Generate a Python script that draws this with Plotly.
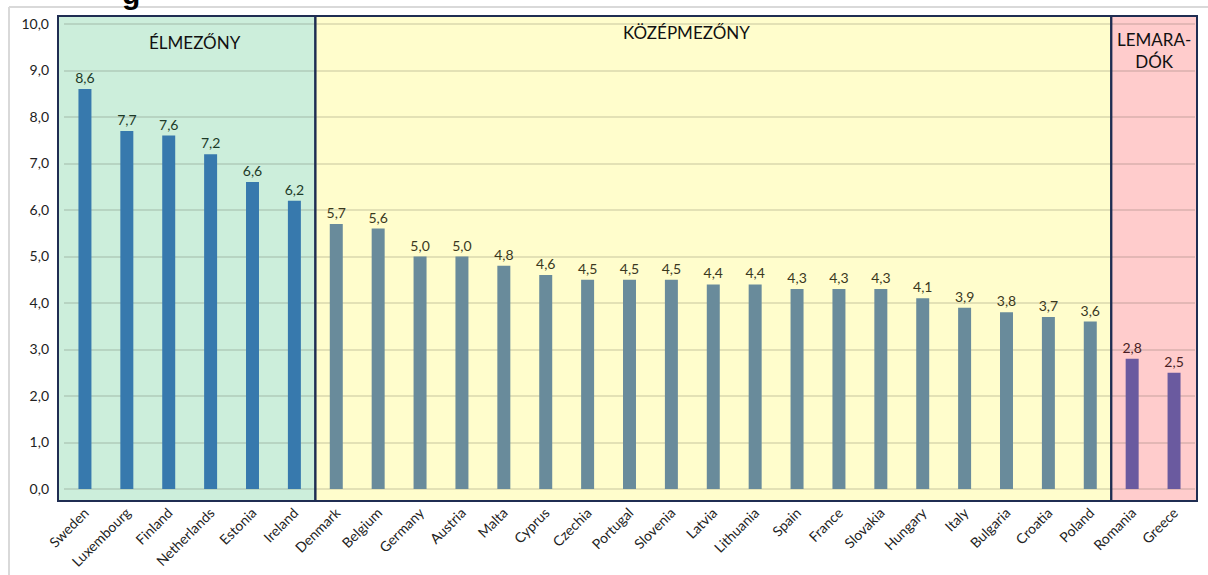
import plotly.graph_objects as go

countries = ["Sweden", "Luxembourg", "Finland", "Netherlands", "Estonia", "Ireland",
             "Denmark", "Belgium", "Germany", "Austria", "Malta", "Cyprus", "Czechia",
             "Portugal", "Slovenia", "Latvia", "Lithuania", "Spain", "France", "Slovakia",
             "Hungary", "Italy", "Bulgaria", "Croatia", "Poland", "Romania", "Greece"]
values = [8.6, 7.7, 7.6, 7.2, 6.6, 6.2,
          5.7, 5.6, 5.0, 5.0, 4.8, 4.6, 4.5, 4.5, 4.5, 4.4, 4.4, 4.3, 4.3, 4.3,
          4.1, 3.9, 3.8, 3.7, 3.6, 2.8, 2.5]
group_names = ["ÉLMEZŐNY", "KÖZÉPMEZŐNY", "LEMARA-<br>DÓK"]
group_sizes = [6, 19, 2]

bar_colors = ["#3779AD", "#698B9B", "#6A5A9F"]
bg_colors = ["#CCEEDB", "#FFFDCC", "#FFCCCC"]
label_colors = ["#1D3A28", "#3A381E", "#4A1E24"]

W, H = 1208, 575
ml, mr, mt, mb = 64, 13, 16, 74
pw = W - ml - mr
ph = H - mt - mb
n = len(countries)

cols, lcols = [], []
for g, s in enumerate(group_sizes):
    cols += [bar_colors[g]] * s
    lcols += [label_colors[g]] * s

fig = go.Figure()
fig.add_trace(go.Bar(
    x=countries, y=values, width=0.31,
    marker=dict(color=cols, line=dict(width=0)),
    text=[f"{v:.1f}".replace(".", ",") for v in values],
    textposition="outside", constraintext="none",
    textfont=dict(family="Lato", size=14, color=lcols),
    cliponaxis=False,
))

def px2paper(px):
    return (px - ml) / pw

def py2paper(py):
    return 1 - (py - mt) / ph

shapes = []
annos = []
edges = [0]
for s in group_sizes:
    edges.append(edges[-1] + s)
left_px, right_px = 58, 1197
title_pos = [(195, 42), (686, 33), (1154, 51)]
for g in range(3):
    x0 = edges[g] / n if g > 0 else px2paper(left_px)
    x1 = edges[g + 1] / n if g < 2 else px2paper(right_px)
    shapes.append(dict(type="rect", xref="paper", yref="paper", x0=x0, x1=x1, y0=0, y1=1,
                       fillcolor=bg_colors[g], line=dict(width=0), layer="below"))
    shapes.append(dict(type="rect", xref="paper", yref="paper", x0=x0, x1=x1, y0=0, y1=1,
                       fillcolor="rgba(0,0,0,0)", line=dict(width=2, color="#1F2D52"),
                       layer="above"))
    tx, ty = title_pos[g]
    annos.append(dict(text=group_names[g], xref="paper", yref="paper",
                      x=px2paper(tx), y=py2paper(ty),
                      xanchor="center", yanchor="middle", showarrow=False,
                      font=dict(family="Lato", size=17, color="#111111"),
                      align="center"))

# outer light chart border
shapes.append(dict(type="line", xref="paper", yref="paper",
                   x0=px2paper(9), x1=px2paper(W + 5), y0=py2paper(7), y1=py2paper(7),
                   line=dict(color="#D9D9D9", width=2)))
shapes.append(dict(type="line", xref="paper", yref="paper",
                   x0=px2paper(9), x1=px2paper(9), y0=py2paper(7), y1=py2paper(H + 5),
                   line=dict(color="#D9D9D9", width=2)))

# cropped title fragment at top
annos.append(dict(text="<b>g</b>", xref="paper", yref="paper",
                  x=px2paper(131), y=py2paper(12),
                  xanchor="center", yanchor="bottom", showarrow=False,
                  font=dict(family="Liberation Sans", size=30, color="#000000")))

fig.update_layout(
    width=W, height=H,
    margin=dict(l=ml, r=mr, t=mt, b=mb, pad=0),
    paper_bgcolor="white", plot_bgcolor="rgba(0,0,0,0)",
    separators=", ",
    showlegend=False,
    shapes=shapes, annotations=annos,
    xaxis=dict(range=[-0.5, n - 0.5], tickangle=-45, ticks="", showgrid=False,
               tickfont=dict(family="Lato", size=14, color="#222222"),
               showline=False, zeroline=False, automargin=False),
    yaxis=dict(range=[-0.258, 10.172], tickvals=list(range(0, 11)), tickformat=".1f",
               showgrid=True, gridcolor="rgba(60,60,40,0.14)", gridwidth=2,
               zeroline=False, ticks="", ticklabelstandoff=14,
               tickfont=dict(family="Lato", size=14, color="#222222"),
               automargin=False),
)

fig.write_html("out.html", config={"displayModeBar": False},
               post_script="document.body.style.margin='0';document.body.style.overflow='hidden';")
